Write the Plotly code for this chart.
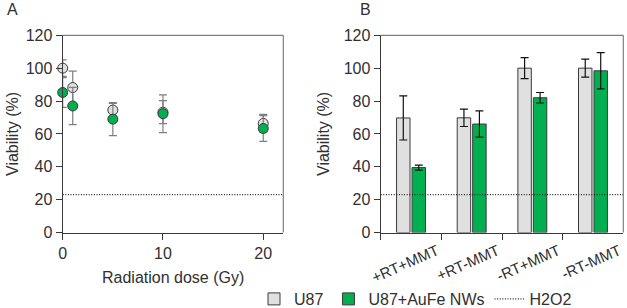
import plotly.graph_objects as go

# ---- data ----
dose = [0, 1, 5, 10, 20]
u87_dose = [100, 88.2, 74.5, 73.2, 66.4]
u87_dose_err = [5, 10, 4, 7, 5.5]
nw_dose = [85.2, 77, 69, 72.3, 63.3]
nw_dose_err = [9, 11.3, 10, 11.5, 7.8]

conditions = ["+RT+MMT", "+RT-MMT", "-RT+MMT", "-RT-MMT"]
u87_bar = [69.7, 69.8, 100, 100]
u87_bar_err = [13.4, 5.3, 6.4, 5.5]
nw_bar = [39.5, 66, 82, 98.4]
nw_bar_err = [1.5, 8, 3.2, 11]

h2o2 = 23
dose_range = [0, 22]

GRAY = "#e0e0e0"
GREEN = "#00b050"
EDGE = "#3a3a3a"
TXT = "#303030"
FONT = "Liberation Sans, Arial, sans-serif"
DOT = "1px,1.6px"

fig = go.Figure()

# Panel A
fig.add_trace(go.Scatter(
    x=dose, y=u87_dose, mode="markers", showlegend=False, cliponaxis=False,
    marker=dict(size=10, color=GRAY, line=dict(color=EDGE, width=1)),
    error_y=dict(type="data", array=u87_dose_err, color="#7f7f7f", thickness=1.2, width=4),
    xaxis="x", yaxis="y"))
fig.add_trace(go.Scatter(
    x=dose, y=nw_dose, mode="markers", showlegend=False, cliponaxis=False,
    marker=dict(size=10, color=GREEN, line=dict(color=EDGE, width=1)),
    error_y=dict(type="data", array=nw_dose_err, color="#7f7f7f", thickness=1.2, width=4),
    xaxis="x", yaxis="y"))

# Panel B
fig.add_trace(go.Bar(
    x=conditions, y=u87_bar, name="U87",
    marker=dict(color=GRAY, line=dict(color=EDGE, width=1)),
    error_y=dict(type="data", array=u87_bar_err, color="#111111", thickness=1.2, width=4),
    xaxis="x2", yaxis="y2"))
fig.add_trace(go.Bar(
    x=conditions, y=nw_bar, name="U87+AuFe NWs",
    marker=dict(color=GREEN, line=dict(color=EDGE, width=1)),
    error_y=dict(type="data", array=nw_bar_err, color="#111111", thickness=1.2, width=4),
    xaxis="x2", yaxis="y2"))

# H2O2 reference line (panel A as a trace, also the legend entry)
fig.add_trace(go.Scatter(
    x=dose_range, y=[h2o2, h2o2], mode="lines", name="H2O2",
    line=dict(color="#222222", width=1.2, dash=DOT),
    xaxis="x", yaxis="y"))

# H2O2 line in panel B
fig.add_shape(type="line", xref="x2 domain", yref="y2", x0=0, x1=1, y0=h2o2, y1=h2o2,
              line=dict(color="#222222", width=1.2, dash=DOT))

# frames (top/right) in gray
for xr, yr in [("x domain", "y domain"), ("x2 domain", "y2 domain")]:
    fig.add_shape(type="line", xref=xr, yref=yr, x0=0, x1=1, y0=1, y1=1,
                  line=dict(color="#7f7f7f", width=1.2))
    fig.add_shape(type="line", xref=xr, yref=yr, x0=1, x1=1, y0=0, y1=1,
                  line=dict(color="#7f7f7f", width=1.2))

ydom = [1 - 232.5 / 308, 1 - 35.3 / 308]
axis_common = dict(showgrid=False, zeroline=False, showline=True, linecolor=EDGE,
                   linewidth=1.2, ticks="outside", ticklen=6, tickcolor=EDGE,
                   automargin=False,
                   tickfont=dict(size=16, color=TXT, family=FONT))

fig.update_layout(
    template="none",
    width=627, height=308,
    margin=dict(l=0, r=0, t=0, b=0, pad=0, autoexpand=False),
    paper_bgcolor="white", plot_bgcolor="white",
    font=dict(family=FONT, color=TXT),
    barmode="group", bargap=0.49, bargroupgap=0.13,
    xaxis=dict(domain=[62.7 / 627, 283.3 / 627], range=dose_range,
               tickvals=[0, 10, 20], anchor="y", **axis_common),
    yaxis=dict(domain=ydom, range=[0, 120], dtick=20, anchor="x", **axis_common),
    xaxis2=dict(domain=[380.7 / 627, 623.3 / 627], anchor="y2", type="category",
                tickson="boundaries", tickangle=-24, ticklabelshift=26, ticklabelstandoff=3,
                **{**axis_common, "tickfont": dict(size=15, color=TXT, family=FONT)}),
    yaxis2=dict(domain=ydom, range=[0, 120], dtick=20, anchor="x2", **axis_common),
    legend=dict(orientation="h", x=254 / 627, xanchor="left", y=1 - 299 / 308,
                yanchor="middle", font=dict(size=16, color=TXT, family=FONT),
                bgcolor="rgba(0,0,0,0)", traceorder="normal"),
    showlegend=True,
)

annots = [
    dict(text="A", x=12 / 627, y=1 - 9 / 308, size=16),
    dict(text="B", x=365 / 627, y=1 - 9 / 308, size=16),
    dict(text="Viability (%)", x=12 / 627, y=1 - 134 / 308, textangle=-90, size=16),
    dict(text="Viability (%)", x=323 / 627, y=1 - 134 / 308, textangle=-90, size=16),
    dict(text="Radiation dose (Gy)", x=173 / 627, y=1 - 277 / 308, size=16),
]
for a in annots:
    size = a.pop("size")
    fig.add_annotation(xref="paper", yref="paper", showarrow=False,
                       xanchor="center", yanchor="middle",
                       font=dict(family=FONT, color=TXT, size=size), **a)

fig.write_html("out.html")
